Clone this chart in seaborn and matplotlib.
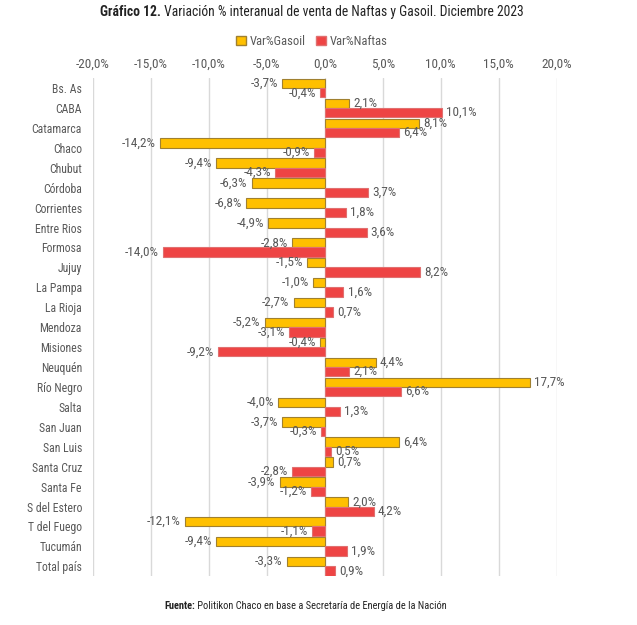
import pandas as pd
import numpy as np
import matplotlib.pyplot as plt
import seaborn as sns
from matplotlib import font_manager

provincias = ["Bs. As", "CABA", "Catamarca", "Chaco", "Chubut", "Córdoba", "Corrientes",
              "Entre Rios", "Formosa", "Jujuy", "La Pampa", "La Rioja", "Mendoza", "Misiones",
              "Neuquén", "Río Negro", "Salta", "San Juan", "San Luis", "Santa Cruz", "Santa Fe",
              "S del Estero", "T del Fuego", "Tucumán", "Total país"]
var_gasoil = [-3.7, 2.1, 8.1, -14.2, -9.4, -6.3, -6.8, -4.9, -2.8, -1.5, -1.0, -2.7, -5.2, -0.4,
              4.4, 17.7, -4.0, -3.7, 6.4, 0.7, -3.9, 2.0, -12.1, -9.4, -3.3]
var_naftas = [-0.4, 10.1, 6.4, -0.9, -4.3, 3.7, 1.8, 3.6, -14.0, 8.2, 1.6, 0.7, -3.1, -9.2,
              2.1, 6.6, 1.3, -0.3, 0.5, -2.8, -1.2, 4.2, -1.1, 1.9, 0.9]
series = ["Var%Gasoil", "Var%Naftas"]
x_ticks = [-20, -15, -10, -5, 0, 5, 10, 15, 20]

df = pd.DataFrame({
    "Provincia": provincias * 2,
    "Serie": [series[0]] * len(provincias) + [series[1]] * len(provincias),
    "Valor": var_gasoil + var_naftas,
})

sns.set_style("white")
names = {f.name for f in font_manager.fontManager.ttflist}
fam = "Roboto Condensed" if "Roboto Condensed" in names else "Roboto"
plt.rcParams["font.family"] = [fam, "DejaVu Sans"]

gray = "#595959"
fig = plt.figure(figsize=(6.37, 6.25), dpi=100)
ax = fig.add_axes([0.146, 0.078, 0.728, 0.797])

sns.barplot(data=df, y="Provincia", x="Valor", hue="Serie", orient="h", saturation=1,
            palette=["#FFC000", "#EE4444"], width=0.94, ax=ax, legend=False)

edges = ["#A08030", "#E07070"]
for cont, ec, vals in zip(ax.containers, edges, [var_gasoil, var_naftas]):
    for p in cont:
        p.set_edgecolor(ec)
        p.set_linewidth(0.8)
    labels = [f"{v:.1f}%".replace(".", ",") for v in vals]
    ax.bar_label(cont, labels=labels, padding=3, fontsize=9.5, color=gray)

ax.set_xlim(-20, 20)
ax.set_xticks(x_ticks)
ax.set_xticklabels([f"{t:.1f}%".replace(".", ",") for t in x_ticks], color=gray, fontsize=9.5)
ax.xaxis.tick_top()
ax.tick_params(axis="x", length=0, pad=5)
ax.tick_params(axis="y", length=0, pad=8, labelsize=8.5, labelcolor=gray)
ax.grid(axis="x", color="#D9D9D9", linewidth=1)
ax.set_axisbelow(True)
ax.set_xlabel("")
ax.set_ylabel("")
for s in ax.spines.values():
    s.set_visible(False)

handles = [plt.Rectangle((0, 0), 1, 1, facecolor="#FFC000", edgecolor="#A08030"),
           plt.Rectangle((0, 0), 1, 1, facecolor="#EE4444", edgecolor="#E07070")]
fig.legend(handles, series, loc="center", bbox_to_anchor=(0.49, 0.934), ncol=2, frameon=False,
           fontsize=9, labelcolor=gray, handlelength=0.8, handleheight=0.8, handletextpad=0.3,
           columnspacing=0.8)


def two_part_text(bold, rest, cx, y, size):
    # bold lead-in followed by regular text, centred as one line
    r = fig.canvas.get_renderer()
    t1 = fig.text(0, y, bold, ha="left", va="center", fontsize=size, fontweight="bold",
                  color="#222222")
    t2 = fig.text(0, y, rest, ha="left", va="center", fontsize=size, color="#222222")
    w1 = t1.get_window_extent(r).width / fig.bbox.width
    w2 = t2.get_window_extent(r).width / fig.bbox.width
    x0 = cx - (w1 + w2) / 2
    t1.set_x(x0)
    t2.set_x(x0 + w1)


two_part_text("Gráfico 12.", " Variación % interanual de venta de Naftas y Gasoil. Diciembre 2023",
              0.49, 0.981, 9.8)
two_part_text("Fuente:", " Politikon Chaco en base a Secretaría de Energía de la Nación",
              0.48, 0.031, 7.5)

fig.savefig("out.png", dpi=100)
